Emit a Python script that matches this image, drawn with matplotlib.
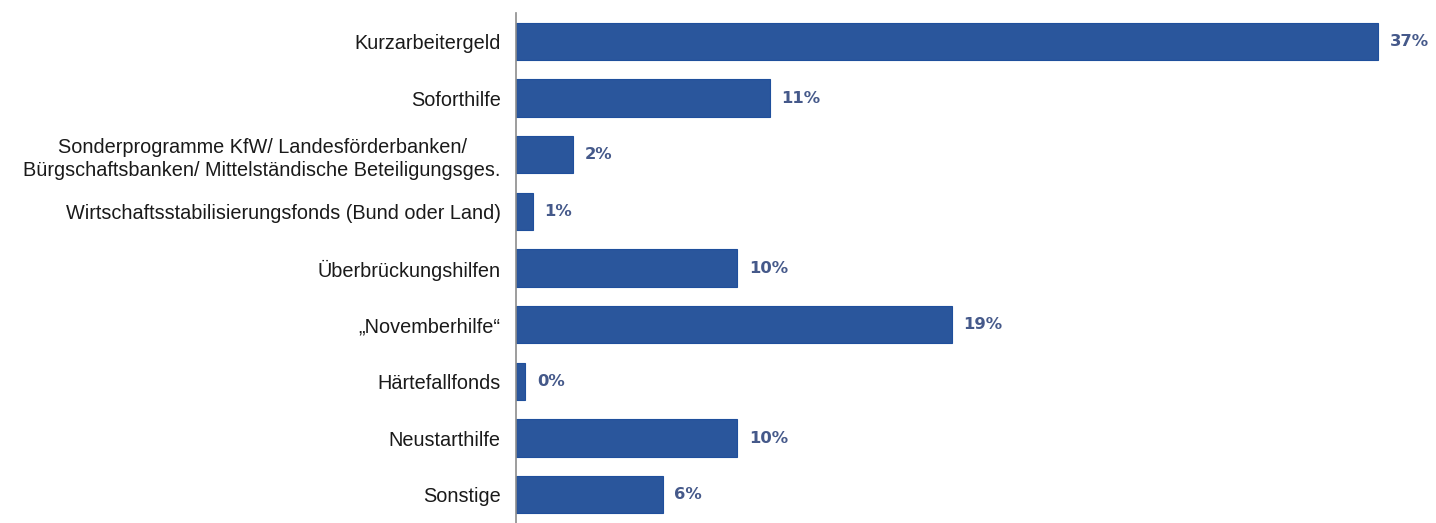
"""Horizontal bar chart: use of support programmes."""

import matplotlib.pyplot as plt

categories = [
    "Kurzarbeitergeld",
    "Soforthilfe",
    "Sonderprogramme KfW/ Landesförderbanken/\nBürgschaftsbanken/ Mittelständische Beteiligungsges.",
    "Wirtschaftsstabilisierungsfonds (Bund oder Land)",
    "Überbrückungshilfen",
    "„Novemberhilfe“",
    "Härtefallfonds",
    "Neustarthilfe",
    "Sonstige",
]
values = [37.0, 10.9, 2.45, 0.73, 9.5, 18.7, 0.4, 9.5, 6.3]
value_labels = ["37%", "11%", "2%", "1%", "10%", "19%", "0%", "10%", "6%"]

BAR_COLOR = "#2a569c"
LABEL_COLOR = "#45598a"

plt.rcParams["font.family"] = ["Liberation Sans", "DejaVu Sans"]

fig = plt.figure(figsize=(14.36, 5.23), dpi=100)
ax = fig.add_axes([516 / 1436, 0.0, 920 / 1436, 0.975])

ypos = list(range(len(categories)))
ax.barh(ypos, values, height=0.66, color=BAR_COLOR, edgecolor="#1f4f9c", linewidth=0.8)

for y, v, lab in zip(ypos, values, value_labels):
    ax.text(v + 0.5, y, lab, va="center", ha="left", fontsize=11.8,
            fontweight="bold", color=LABEL_COLOR, family=["DejaVu Sans"])

ax.set_yticks(ypos)
ax.set_yticklabels(categories, fontsize=14.3, color="#1a1a1a",
                   multialignment="center", linespacing=1.3)
ax.tick_params(axis="y", length=0, pad=11)
ax.set_ylim(len(categories) - 0.5, -0.5)
ax.set_xlim(0, 39.5)
ax.set_xticks([])

for side in ("top", "right", "bottom"):
    ax.spines[side].set_visible(False)
ax.spines["left"].set_color("#8c8c8c")
ax.spines["left"].set_linewidth(1.2)

fig.savefig("out.png", dpi=100, facecolor="white")
